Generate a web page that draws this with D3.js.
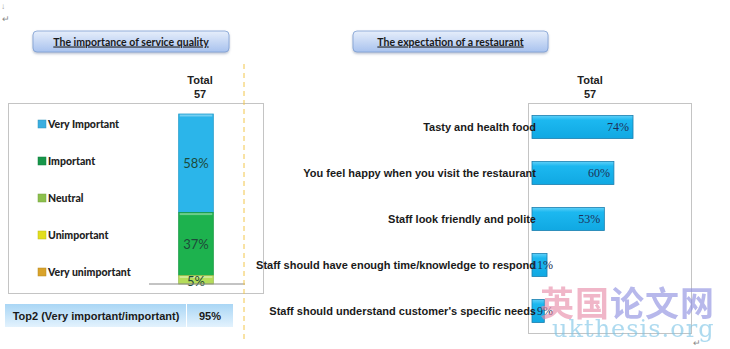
<!DOCTYPE html>
<html>
<head>
<meta charset="utf-8">
<script src="https://cdn.jsdelivr.net/npm/d3@7"></script>
<style>
  body { margin: 0; background: #fff; }
  svg { display: block; }
</style>
</head>
<body>
<svg id="chart" width="730" height="349"></svg>
<script>
// importance of service quality (stacked, one column)
const levels      = ['Very Important', 'Important', 'Neutral', 'Unimportant', 'Very unimportant'];
const levelShares = [58, 37, 5, 0, 0];
const levelColors = ['#2bb5ea', '#1db24e', '#b5dc5a', '#f0ec2a', '#e8b020'];
const legendColors = ['#3aaee0', '#17964a', '#8cc04c', '#e2de1e', '#d9a32a'];
const totalLabel  = ['Total', '57'];
const top2Label   = 'Top2 (Very important/important)';
const top2Value   = 95;

// expectation of a restaurant (horizontal bars)
const expectations = [
  'Tasty and health food',
  'You feel happy when you visit the restaurant',
  'Staff look friendly and polite',
  'Staff should have enough time/knowledge to respond',
  "Staff should understand customer's specific needs"
];
const expectationShares = [74, 60, 53, 11, 9];

const svg = d3.select('#chart');
const defs = svg.append('defs');

let btnGrad = defs.append('linearGradient').attr('id', 'btnGrad')
  .attr('x1', 0).attr('y1', 0).attr('x2', 0).attr('y2', 1);
btnGrad.append('stop').attr('offset', '0%').attr('stop-color', '#e6eefb');
btnGrad.append('stop').attr('offset', '100%').attr('stop-color', '#a8c2ee');

let topGrad = defs.append('linearGradient').attr('id', 'topGrad')
  .attr('x1', 0).attr('y1', 0).attr('x2', 0).attr('y2', 1);
topGrad.append('stop').attr('offset', '0%').attr('stop-color', '#a9d6f5');
topGrad.append('stop').attr('offset', '100%').attr('stop-color', '#e3f2fd');

let barGrad = defs.append('linearGradient').attr('id', 'barGrad')
  .attr('x1', 0).attr('y1', 0).attr('x2', 0).attr('y2', 1);
barGrad.append('stop').attr('offset', '0%').attr('stop-color', '#5fd0f8');
barGrad.append('stop').attr('offset', '20%').attr('stop-color', '#1cb8f0');
barGrad.append('stop').attr('offset', '100%').attr('stop-color', '#10a8e2');

let shadow = defs.append('filter').attr('id', 'shadow')
  .attr('x', '-10%').attr('y', '-20%').attr('width', '120%').attr('height', '160%');
shadow.append('feDropShadow').attr('dx', 0).attr('dy', 1.5).attr('stdDeviation', 1.2)
  .attr('flood-color', '#7080a0').attr('flood-opacity', 0.5);

// paragraph marks from the source document
svg.append('text').attr('x', 1).attr('y', 9).attr('font-size', 8).attr('fill', '#999').text('\u2193');
svg.append('text').attr('x', 2).attr('y', 22).attr('font-size', 9).attr('fill', '#888').text('\u21b5');
svg.append('text').attr('x', 693).attr('y', 346).attr('font-size', 9).attr('fill', '#888').text('\u21b5');

// title buttons
function titleButton(x, w, label) {
  let g = svg.append('g');
  g.append('rect')
    .attr('x', x).attr('y', 31).attr('width', w).attr('height', 21)
    .attr('rx', 4).attr('fill', 'url(#btnGrad)')
    .attr('stroke', '#7f9fd3').attr('stroke-width', 0.8)
    .attr('filter', 'url(#shadow)');
  g.append('text')
    .attr('x', x + w / 2).attr('y', 45.5)
    .attr('text-anchor', 'middle')
    .attr('font-family', 'Lato, "Open Sans", sans-serif')
    .attr('font-weight', 'bold').attr('font-size', 10.5)
    .attr('fill', '#1a1a1a')
    .attr('text-decoration', 'underline')
    .text(label);
}
titleButton(33, 196, 'The importance of service quality');
titleButton(353, 195, 'The expectation of a restaurant');

function totalHeader(cx) {
  svg.append('text')
    .attr('text-anchor', 'middle')
    .attr('font-family', '"Liberation Sans", Arial, sans-serif')
    .attr('font-weight', 'bold').attr('font-size', 11).attr('fill', '#222')
    .selectAll('tspan').data(totalLabel).join('tspan')
      .attr('x', cx).attr('y', (d, i) => 84 + i * 14)
      .text(d => d);
}
totalHeader(200);
totalHeader(590);

// ---------- left chart ----------
svg.append('rect')
  .attr('x', 8.5).attr('y', 103.5).attr('width', 255).attr('height', 190)
  .attr('fill', 'none').attr('stroke', '#c4c4c4');

let yLeft = d3.scaleLinear().domain([0, 100]).range([284, 114]);
let xLeft = d3.scaleBand().domain(['Total']).range([170, 222]).padding(0.2);

let stackRow = {};
levels.forEach((l, i) => stackRow[l] = levelShares[i]);
// very important sits on top, so stack from the last level upwards
let stacked = d3.stack().keys(levels).order(d3.stackOrderReverse)([stackRow]);

let segs = svg.append('g').selectAll('g.seg')
  .data(stacked.filter(s => s[0][1] - s[0][0] > 0))
  .join('g').attr('class', 'seg');

segs.append('rect')
  .attr('x', xLeft('Total'))
  .attr('width', xLeft.bandwidth())
  .attr('y', d => yLeft(d[0][1]))
  .attr('height', d => yLeft(d[0][0]) - yLeft(d[0][1]))
  .attr('fill', d => levelColors[levels.indexOf(d.key)])
  .attr('stroke', d => d3.color(levelColors[levels.indexOf(d.key)]).darker(0.4))
  .attr('stroke-width', 0.8);

// light highlight on top of each segment
segs.append('rect')
  .attr('x', xLeft('Total') + 1)
  .attr('width', xLeft.bandwidth() - 2)
  .attr('y', d => yLeft(d[0][1]) + 0.5)
  .attr('height', 2)
  .attr('fill', '#fff').attr('opacity', 0.35);

segs.append('text')
  .attr('x', xLeft('Total') + xLeft.bandwidth() / 2)
  .attr('y', d => (yLeft(d[0][1]) + yLeft(d[0][0])) / 2 + (d[0][1] - d[0][0] < 10 ? 6 : 5))
  .attr('text-anchor', 'middle')
  .attr('font-family', 'Lato, "Open Sans", sans-serif')
  .attr('font-size', 13)
  .attr('fill', '#1d4a3a')
  .text(d => (d[0][1] - d[0][0]) + '%');

svg.append('line')
  .attr('x1', 149).attr('x2', 245)
  .attr('y1', yLeft(0)).attr('y2', yLeft(0))
  .attr('stroke', '#888').attr('stroke-width', 1);

// legend
let legend = svg.append('g').selectAll('g')
  .data(levels).join('g')
    .attr('transform', (d, i) => `translate(38,${124 + i * 37})`);
legend.append('rect')
  .attr('x', 0).attr('y', -4).attr('width', 8).attr('height', 8)
  .attr('fill', (d, i) => legendColors[i])
  .attr('stroke', (d, i) => d3.color(legendColors[i]).darker(0.5)).attr('stroke-width', 0.5);
legend.append('text')
  .attr('x', 10).attr('y', 3.5)
  .attr('font-family', 'Lato, "Open Sans", sans-serif')
  .attr('font-weight', 900).attr('font-size', 10.5)
  .attr('fill', '#222')
  .text(d => d);

// dashed separator
svg.append('line')
  .attr('x1', 244).attr('x2', 244).attr('y1', 64).attr('y2', 340)
  .attr('stroke', '#f2c64a').attr('stroke-width', 1)
  .attr('stroke-dasharray', '5,4');

// top2 box
let top2 = svg.append('g');
top2.append('rect').attr('x', 5).attr('y', 304).attr('width', 181).attr('height', 23).attr('fill', 'url(#topGrad)');
top2.append('rect').attr('x', 187).attr('y', 304).attr('width', 46).attr('height', 23).attr('fill', 'url(#topGrad)');
top2.append('text').attr('x', 96).attr('y', 319.5).attr('text-anchor', 'middle')
  .attr('font-family', '"Liberation Sans", Arial, sans-serif')
  .attr('font-weight', 'bold').attr('font-size', 11).attr('fill', '#1a1a1a')
  .text(top2Label);
top2.append('text').attr('x', 210).attr('y', 319.5).attr('text-anchor', 'middle')
  .attr('font-family', '"Liberation Sans", Arial, sans-serif')
  .attr('font-weight', 'bold').attr('font-size', 11).attr('fill', '#1a1a1a')
  .text(top2Value + '%');

// ---------- right chart ----------
svg.append('rect')
  .attr('x', 528.5).attr('y', 103.5).attr('width', 163).attr('height', 230)
  .attr('fill', 'none').attr('stroke', '#c4c4c4');

let xRight = d3.scaleLinear().domain([0, 100]).range([532, 668.5]);
let yRight = d3.scaleBand().domain(expectations).range([104, 334])
  .paddingInner(0.5).paddingOuter(0.25);

let rows = svg.append('g').selectAll('g.row')
  .data(expectations).join('g').attr('class', 'row');

rows.append('rect')
  .attr('x', xRight(0))
  .attr('y', d => yRight(d))
  .attr('width', (d, i) => xRight(expectationShares[i]) - xRight(0))
  .attr('height', yRight.bandwidth())
  .attr('fill', 'url(#barGrad)')
  .attr('stroke', '#1a7eae').attr('stroke-width', 0.8);

rows.append('text')
  .attr('x', 536)
  .attr('y', d => yRight(d) + yRight.bandwidth() / 2 + 4)
  .attr('text-anchor', 'end')
  .attr('font-family', '"Liberation Sans", Arial, sans-serif')
  .attr('font-weight', 'bold').attr('font-size', 11)
  .attr('fill', '#1a1a1a')
  .text(d => d);

rows.append('text')
  .attr('x', (d, i) => Math.max(xRight(expectationShares[i]) - 4, 553))
  .attr('y', d => yRight(d) + yRight.bandwidth() / 2 + 4)
  .attr('text-anchor', 'end')
  .attr('font-family', '"Liberation Serif", "DejaVu Serif", serif')
  .attr('font-size', 12)
  .attr('fill', '#1c3158')
  .text((d, i) => expectationShares[i] + '%');

// watermark
let wm = svg.append('g').attr('opacity', 0.62);
wm.append('text').attr('x', 540).attr('y', 316)
  .attr('font-family', '"Noto Sans CJK SC", sans-serif')
  .attr('font-weight', 'bold').attr('font-size', 34)
  .attr('letter-spacing', 1)
  .selectAll('tspan').data([['英国', '#e88aa8'], ['论文网', '#8c8ee0']]).join('tspan')
    .attr('fill', d => d[1]).text(d => d[0]);
wm.append('text').attr('x', 552).attr('y', 337)
  .attr('font-family', '"DejaVu Serif", serif')
  .attr('font-size', 24).attr('letter-spacing', 1)
  .attr('fill', '#7cc4e6')
  .text('ukthesis.org');
</script>
</body>
</html>
